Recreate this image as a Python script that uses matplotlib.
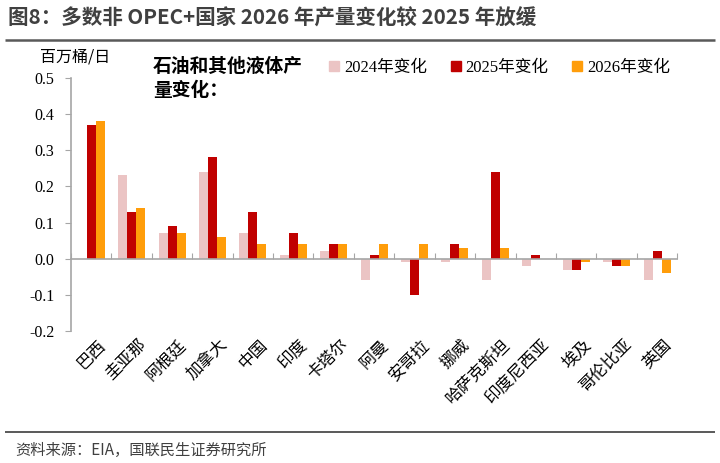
import numpy as np
import matplotlib.pyplot as plt
from matplotlib.lines import Line2D
import matplotlib.transforms as mtransforms

plt.rcParams['font.family'] = ['Liberation Serif', 'Noto Sans CJK SC']

countries = ['巴西', '圭亚那', '阿根廷', '加拿大', '中国', '印度', '卡塔尔', '阿曼',
             '安哥拉', '挪威', '哈萨克斯坦', '印度尼西亚', '埃及', '哥伦比亚', '英国']
chg_2024 = [0.00, 0.23, 0.07, 0.24, 0.07, 0.01, 0.02, -0.06,
            -0.01, -0.01, -0.06, -0.02, -0.03, -0.01, -0.06]
chg_2025 = [0.37, 0.13, 0.09, 0.28, 0.13, 0.07, 0.04, 0.01,
            -0.10, 0.04, 0.24, 0.01, -0.03, -0.02, 0.02]
chg_2026 = [0.38, 0.14, 0.07, 0.06, 0.04, 0.04, 0.04, 0.04,
            0.04, 0.03, 0.03, 0.00, -0.01, -0.02, -0.04]
series_names = ['2024年变化', '2025年变化', '2026年变化']
colors = ['#EBC4C4', '#C00000', '#FF9D0A']

fig = plt.figure(figsize=(7.2, 4.63), dpi=100)

# full-figure overlay for the header / footer rules
bg = fig.add_axes([0, 0, 1, 1])
bg.set_xlim(0, 720)
bg.set_ylim(463, 0)
bg.axis('off')
bg.hlines([40, 432], 5, 715, colors='#595959', linewidth=[1.8, 1.4])

ax = fig.add_axes([0.0986, 0.285, 0.842, 0.547])
ax.patch.set_alpha(0)

x = np.arange(len(countries))
w = 0.223
for k, vals in enumerate([chg_2024, chg_2025, chg_2026]):
    ax.bar(x + (k - 1) * w, vals, width=w, color=colors[k], edgecolor='none')

ax.set_xlim(-0.5, len(countries) - 0.5)
ax.set_ylim(-0.2, 0.5)
ax.set_yticks(np.arange(-0.2, 0.51, 0.1))
ax.set_yticklabels(['-0.2', '-0.1', '0.0', '0.1', '0.2', '0.3', '0.4', '0.5'], fontsize=11.5)

for s in ['top', 'right']:
    ax.spines[s].set_visible(False)
ax.spines['left'].set_color('#A6A6A6')
ax.spines['left'].set_linewidth(1.2)
ax.spines['bottom'].set_position(('data', 0))
ax.spines['bottom'].set_color('#A6A6A6')
ax.spines['bottom'].set_linewidth(1.2)
ax.tick_params(axis='y', length=4, color='#A6A6A6', pad=8)
ax.set_xticks(np.arange(len(countries) + 1) - 0.5)
ax.set_xticklabels([])
ax.tick_params(axis='x', direction='in', length=4, color='#A6A6A6')

trans = mtransforms.blended_transform_factory(ax.transData, ax.transAxes)
for i, name in enumerate(countries):
    ax.text(i + 0.15, -0.02, name, transform=trans, rotation=45, ha='right', va='top',
            rotation_mode='anchor', fontsize=12, family=['Noto Sans CJK SC'])

fig.text(40 / 720, 1 - 57 / 463, '百万桶/日', fontsize=11.5, va='center', family=['Noto Sans CJK SC'])
fig.text(153 / 720, 1 - 66 / 463, '石油和其他液体产', fontsize=13.5, fontweight='bold',
         va='center', family=['Noto Sans CJK SC'])
fig.text(153 / 720, 1 - 91 / 463, '量变化：', fontsize=13.5, fontweight='bold',
         va='center', family=['Noto Sans CJK SC'])

handles = [Line2D([], [], marker='s', linestyle='none', markersize=7, color=c) for c in colors]
fig.legend(handles, series_names, loc='center left', bbox_to_anchor=(311 / 720, 1 - 68 / 463),
           ncol=3, frameon=False, fontsize=12, handletextpad=0.1, columnspacing=1.2,
           handlelength=1.0)

fig.text(8 / 720, 1 - 18 / 463, '图8：多数非 OPEC+国家 2026 年产量变化较 2025 年放缓', fontsize=14.8,
         fontweight='bold', color='#404040', va='center', family=['Noto Sans CJK SC'])
fig.text(15 / 720, 1 - 450 / 463, '资料来源：EIA，国联民生证券研究所', fontsize=11, color='#404040',
         va='center', family=['Noto Sans CJK SC'])

fig.savefig('out.png', dpi=100)
